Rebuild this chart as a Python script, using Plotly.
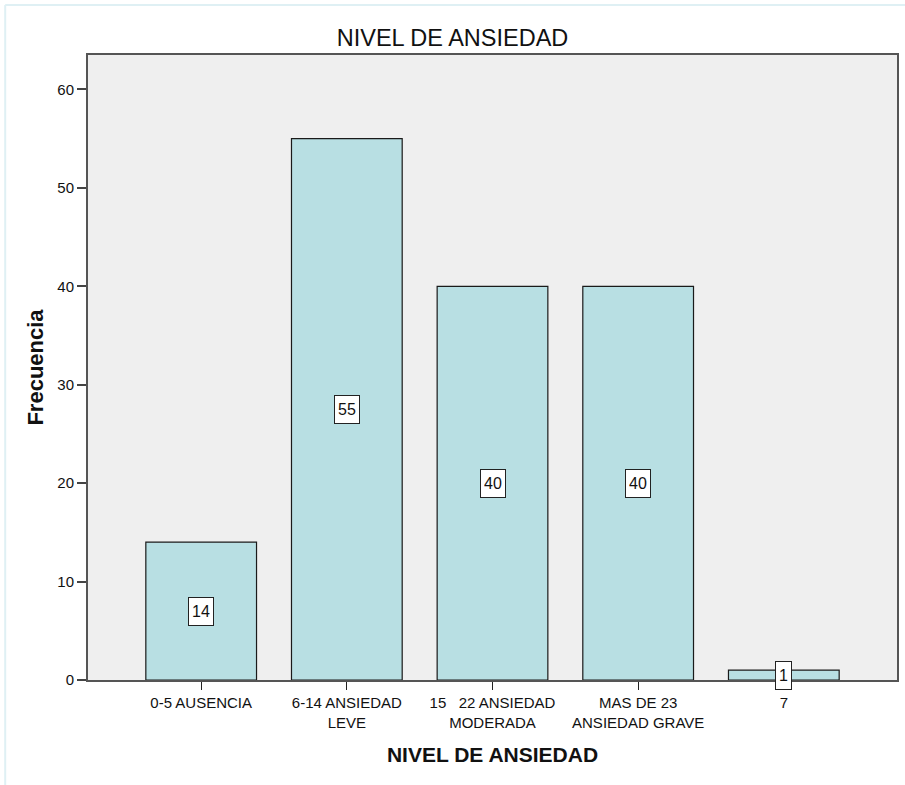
import plotly.graph_objects as go

categories = ["0-5 AUSENCIA", "6-14 ANSIEDAD<br>LEVE", "15\u00a0\u00a0\u00a022 ANSIEDAD<br>MODERADA",
              "MAS DE 23<br>ANSIEDAD GRAVE", "7"]
frequencies = [14, 55, 40, 40, 1]
y_ticks = [0, 10, 20, 30, 40, 50, 60]

SANS = "Liberation Sans, Arial, sans-serif"

fig = go.Figure()
fig.add_trace(go.Bar(
    x=list(range(len(categories))),
    y=frequencies,
    width=0.76,
    marker=dict(color="#b8dfe3", line=dict(color="#1a1a1a", width=1.2)),
    hoverinfo="skip",
))

for i, v in enumerate(frequencies):
    fig.add_annotation(
        x=i, y=v / 2, xref="x", yref="y", text=str(v), showarrow=False,
        font=dict(family=SANS, size=16, color="#111"),
        height=21,
        bgcolor="white", bordercolor="#222", borderwidth=1, borderpad=3,
    )

fig.update_layout(
    width=905, height=785,
    margin=dict(l=88, r=6, t=55, b=105),
    paper_bgcolor="white",
    plot_bgcolor="#efefef",
    showlegend=False,
    title=dict(text="NIVEL DE ANSIEDAD", x=0.5, xref="container", xanchor="center",
               y=1 - 38 / 785, yref="container", yanchor="middle",
               font=dict(family=SANS, size=23.5, color="#111")),
    xaxis=dict(
        range=[-0.777, 4.777],
        tickmode="array", tickvals=list(range(len(categories))), ticktext=categories,
        ticks="outside", ticklen=8, tickcolor="#222", tickwidth=1,
        showline=True, linecolor="#555", linewidth=2, mirror=True,
        showgrid=False, zeroline=False,
        tickfont=dict(family=SANS, size=15, color="#111"),
        title=dict(text="<b>NIVEL DE ANSIEDAD</b>", standoff=18,
                   font=dict(family=SANS, size=21, color="#111")),
    ),
    yaxis=dict(
        range=[0, 63.5],
        tickmode="array", tickvals=y_ticks,
        ticks="outside", ticklen=9, tickcolor="#444", tickwidth=2,
        showline=True, linecolor="#555", linewidth=2, mirror=True,
        showgrid=False, zeroline=False,
        tickfont=dict(family=SANS, size=15, color="#111"),
        title=dict(text="<b>Frecuencia</b>", standoff=8,
                   font=dict(family=SANS, size=22, color="#111")),
    ),
    shapes=[
        dict(type="line", xref="paper", yref="paper",
             x0=-83 / 811, x1=-83 / 811, y0=-2, y1=(785 - 5 - 105) / 625,
             line=dict(color="#dff0f4", width=2)),
        dict(type="line", xref="paper", yref="paper",
             x0=-83 / 811, x1=2, y0=(785 - 5 - 105) / 625, y1=(785 - 5 - 105) / 625,
             line=dict(color="#dff0f4", width=2)),
    ],
)

fig.write_html("out.html", config={"displayModeBar": False},
               post_script="document.body.style.margin='0';document.body.style.overflow='hidden';")
